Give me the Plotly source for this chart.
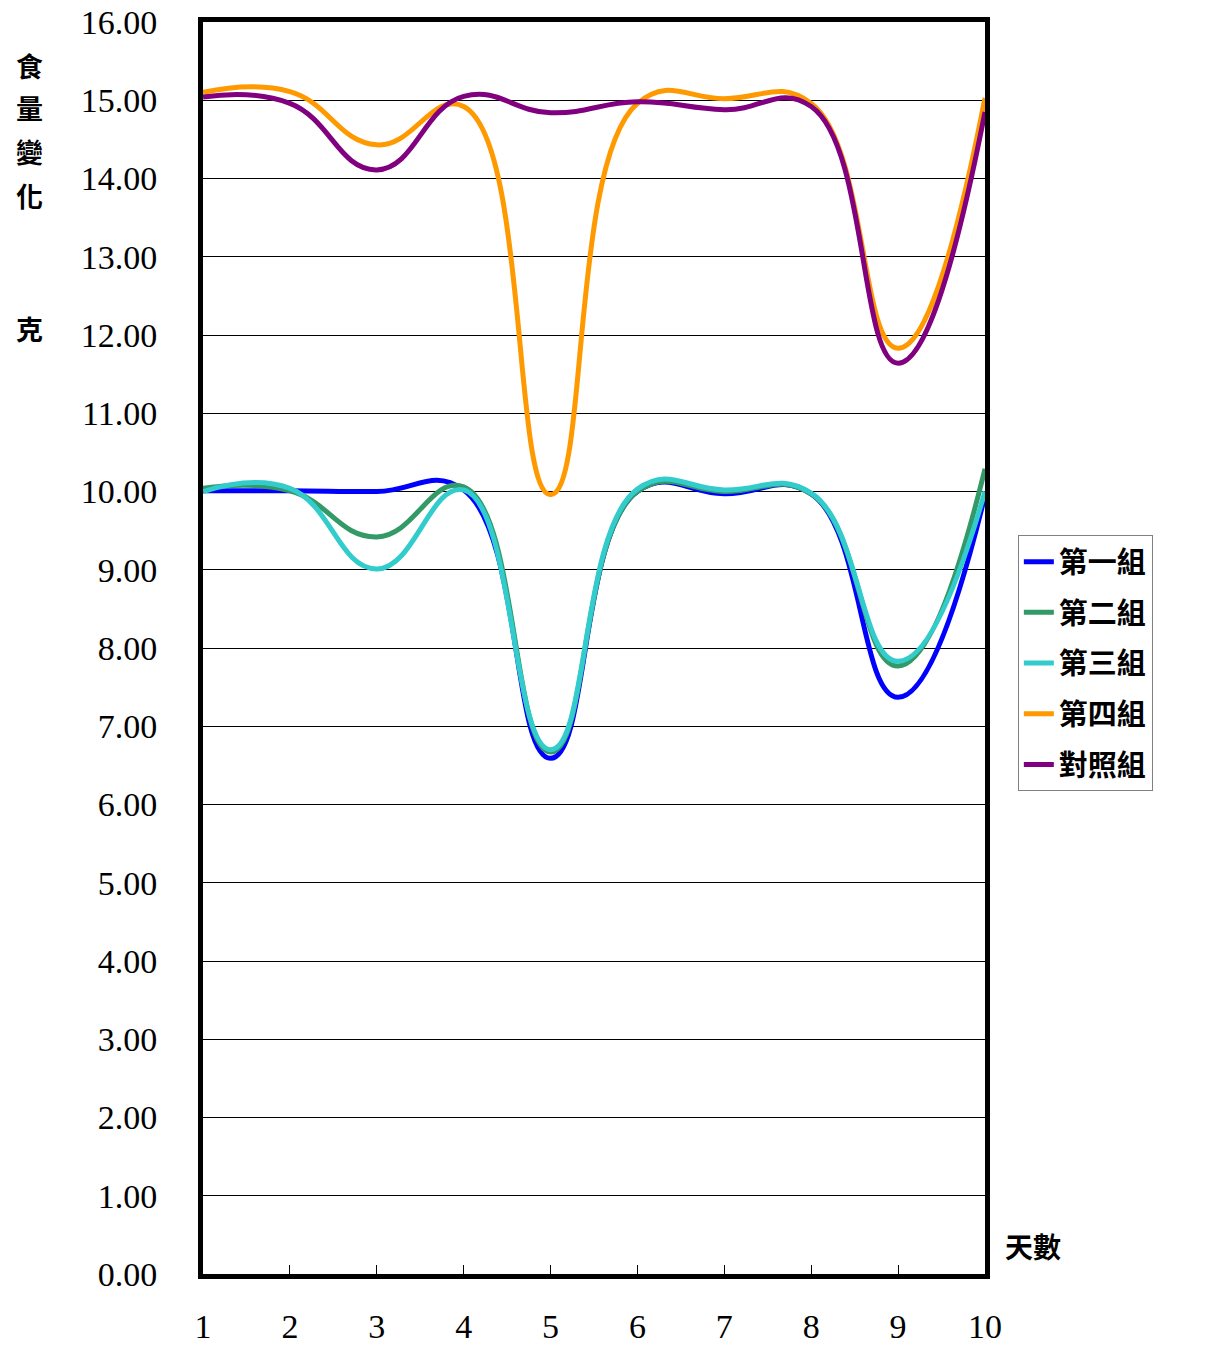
import plotly.graph_objects as go

days = [1, 2, 3, 4, 5, 6, 7, 8, 9, 10]
group1 = [10.01, 10.01, 10.00, 10.02, 6.59, 10.00, 9.97, 9.97, 7.37, 9.95]
group2 = [10.04, 10.01, 9.42, 10.06, 6.67, 10.00, 10.00, 9.97, 7.77, 10.29]
group3 = [10.00, 10.04, 9.01, 10.02, 6.70, 10.03, 10.02, 9.98, 7.83, 10.00]
group4 = [15.10, 15.11, 14.43, 14.92, 9.96, 14.96, 15.02, 14.96, 11.83, 15.03]
control = [15.04, 14.96, 14.11, 15.05, 14.84, 14.98, 14.88, 14.92, 11.64, 14.85]

names = ["第一組", "第二組", "第三組", "第四組", "對照組"]
colors = ["#0000FF", "#339966", "#33CCCC", "#FF9900", "#800080"]
series = [group1, group2, group3, group4, control]

y_ticks = list(range(0, 17))
y_ticktext = [f"{v:.2f}" for v in y_ticks]

CJK = "Noto Sans CJK TC"
NUM = "Liberation Serif"

fig = go.Figure()
for name, col, vals in zip(names, colors, series):
    fig.add_trace(go.Scatter(
        x=days, y=vals, name=name, mode="lines",
        line=dict(color=col, width=5, shape="spline", smoothing=1.3),
        legendgroup=name,
    ))

# the page body adds an 8px margin on every side
fig.update_layout(
    width=1190, height=1333,
    margin=dict(l=195, r=213, t=14, b=67, autoexpand=False),
    paper_bgcolor="white", plot_bgcolor="white",
    showlegend=True,
    legend=dict(
        x=1.042, y=0.590, xanchor="left", yanchor="top",
        bordercolor="#808080", borderwidth=1, bgcolor="white",
        font=dict(family=CJK, size=29, color="black", weight="bold"),
        tracegroupgap=10,
    ),
    xaxis=dict(
        range=[1, 10], tickmode="array", tickvals=days,
        ticktext=[str(d) for d in days],
        ticks="inside", ticklen=9, tickwidth=1, tickcolor="black",
        showgrid=False, zeroline=False, automargin=False,
        showline=True, mirror=True, linecolor="black", linewidth=5,
        tickfont=dict(family=NUM, size=34, color="black"),
        ticklabelstandoff=18, ticklabeloverflow="allow",
    ),
    yaxis=dict(
        range=[0, 16], tickmode="array", tickvals=y_ticks, ticktext=y_ticktext,
        ticks="", showgrid=True, gridcolor="black", gridwidth=1,
        zeroline=False, automargin=False,
        showline=True, mirror=True, linecolor="black", linewidth=5,
        tickfont=dict(family=NUM, size=34, color="black"),
        ticklabelstandoff=34, ticklabeloverflow="allow",
    ),
)

# vertical y-axis title characters
ytitle_chars = [("食", 65), ("量", 108), ("變", 152), ("化", 195), ("克", 328)]
for ch, ypx in ytitle_chars:
    fig.add_annotation(
        text=ch, xref="paper", yref="paper",
        x=(29 - 203) / 782, y=(1274 - ypx) / 1252,
        xanchor="center", yanchor="middle", showarrow=False,
        font=dict(family=CJK, size=27, color="black", weight="bold"),
    )

fig.add_annotation(
    text="天數", xref="paper", yref="paper",
    x=(1033 - 203) / 782, y=(1274 - 1246) / 1252,
    xanchor="center", yanchor="middle", showarrow=False,
    font=dict(family=CJK, size=28, color="black", weight="bold"),
)

fig.write_html("out.html")
